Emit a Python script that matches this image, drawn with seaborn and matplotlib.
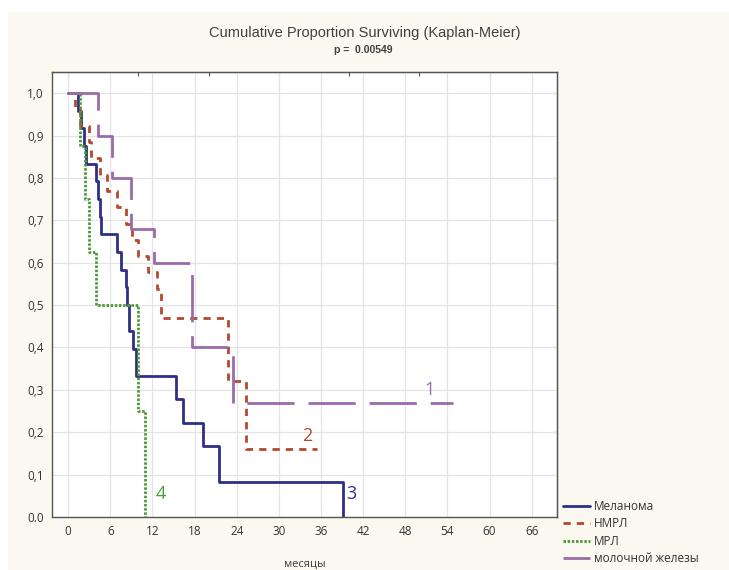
import matplotlib
matplotlib.use("Agg")
import matplotlib.pyplot as plt
from matplotlib.patches import Rectangle
from matplotlib.ticker import FuncFormatter
import numpy as np
import pandas as pd
import seaborn as sns

# Kaplan-Meier curves (months, cumulative survival)
mel_t = [0, 1.4, 1.8, 2.2, 2.6, 3.9, 4.2, 4.5, 4.7, 7.0, 7.5, 8.2, 8.4, 8.6, 9.3, 9.7, 15.3, 16.3, 19.2, 21.5, 39.2]
mel_s = [1.0, 0.958, 0.917, 0.875, 0.833, 0.792, 0.75, 0.708, 0.667, 0.625, 0.583, 0.542, 0.5, 0.438, 0.396, 0.333, 0.278, 0.222, 0.167, 0.083, 0.0]

nsclc_t = [0, 1.0, 1.7, 2.9, 3.3, 4.6, 5.6, 7.0, 8.2, 9.1, 10.0, 11.3, 12.7, 13.2, 22.7, 25.3, 35.5]
nsclc_s = [1.0, 0.962, 0.923, 0.885, 0.846, 0.808, 0.769, 0.731, 0.692, 0.654, 0.615, 0.577, 0.538, 0.47, 0.32, 0.16, 0.16]

sclc_t = [0, 1.7, 2.4, 2.9, 3.9, 9.9, 11.0]
sclc_s = [1.0, 0.875, 0.75, 0.625, 0.5, 0.25, 0.0]

breast_t = [0, 4.3, 6.3, 8.9, 12.2, 17.7, 23.5, 54.8]
breast_s = [1.0, 0.9, 0.8, 0.68, 0.6, 0.4, 0.27, 0.27]

groups = ["Меланома", "НМРЛ", "МРЛ", "молочной железы"]
curve_labels = ["3", "2", "4", "1"]
label_x = [40.3, 34.0, 13.2, 51.4]
label_y = [0.055, 0.19, 0.055, 0.30]

x_ticks = list(range(0, 67, 6))
y_ticks = [i / 10 for i in range(11)]

colors = ["#2E3088", "#B24A2E", "#4C9A36", "#9A6BA8"]
dashes = ["", (2.6, 2.2), (0.9, 0.6), (17, 5)]

frames = []
for name, t, s in zip(groups, [mel_t, nsclc_t, sclc_t, breast_t], [mel_s, nsclc_s, sclc_s, breast_s]):
    frames.append(pd.DataFrame({"t": t, "s": s, "group": name}))
df = pd.concat(frames, ignore_index=True)

sns.set_style("white")
plt.rcParams["font.family"] = ["Open Sans", "DejaVu Sans"]

fig = plt.figure(figsize=(7.29, 5.70), dpi=100, facecolor="white")
fig.patches.append(Rectangle((8 / 729, 0), 1, 1 - 12 / 570, transform=fig.transFigure,
                             facecolor="#FBF8F0", edgecolor="none", zorder=-10))
ax = fig.add_axes([52 / 729, 1 - 517 / 570, 505 / 729, 445 / 570])
ax.set_facecolor("white")

sns.lineplot(data=df, x="t", y="s", hue="group", style="group", hue_order=groups, style_order=groups,
             palette=dict(zip(groups, colors)), dashes=dict(zip(groups, dashes)),
             estimator=None, sort=False, drawstyle="steps-post", linewidth=2.0,
             legend=False, ax=ax)

for txt, x, y, c in zip(curve_labels, label_x, label_y, colors):
    ax.text(x, y, txt, color=c, fontsize=13, ha="center", va="center")

ax.set_xlim(-2.3, 69.6)
ax.set_ylim(0, 1.05)
ax.set_xticks(x_ticks)
ax.set_yticks(y_ticks)
ax.yaxis.set_major_formatter(FuncFormatter(lambda v, p: "0.0" if v == 0 else f"{v:.1f}".replace(".", ",")))
ax.grid(True, color="#E4E4E4", linewidth=0.9)
ax.set_axisbelow(True)
for sp in ax.spines.values():
    sp.set_color("#555555")
    sp.set_linewidth(1.0)
ax.tick_params(direction="in", length=3, color="#555555", labelsize=8.5, labelcolor="#333333", pad=6)

# small unlabeled ticks on the top and right frame
top = ax.secondary_xaxis("top")
top.set_xticks(list(range(0, 61, 10)))
top.tick_params(direction="in", length=3, color="#555555", labeltop=False)
right = ax.secondary_yaxis("right")
right.set_yticks([0.2, 0.4, 0.6, 0.8, 1.0])
right.tick_params(direction="in", length=3, color="#555555", labelright=False)

ax.set_xlabel("месяцы", fontsize=8, color="#3a3a3a", labelpad=15)
ax.set_ylabel("")
fig.text(365 / 729, 1 - 33 / 570, "Cumulative Proportion Surviving (Kaplan-Meier)", ha="center", va="center",
         fontsize=10.5, color="#3f3f3f", family=["Liberation Sans", "DejaVu Sans"])
fig.text(363 / 729, 1 - 50 / 570, "p =  0.00549", ha="center", va="center", fontsize=7.5,
         color="#3f3f3f", weight="bold", family=["Liberation Sans", "DejaVu Sans"])

handles = ax.get_lines()[:4]
fig.legend(handles, groups, loc="upper left", bbox_to_anchor=(563 / 729, 1 - 500 / 570),
           frameon=False, fontsize=8.5, labelspacing=0.38, handlelength=2.3, handletextpad=0.35,
           borderpad=0, borderaxespad=0, labelcolor="#333333")

fig.savefig("out.png", dpi=100, facecolor=fig.get_facecolor())
